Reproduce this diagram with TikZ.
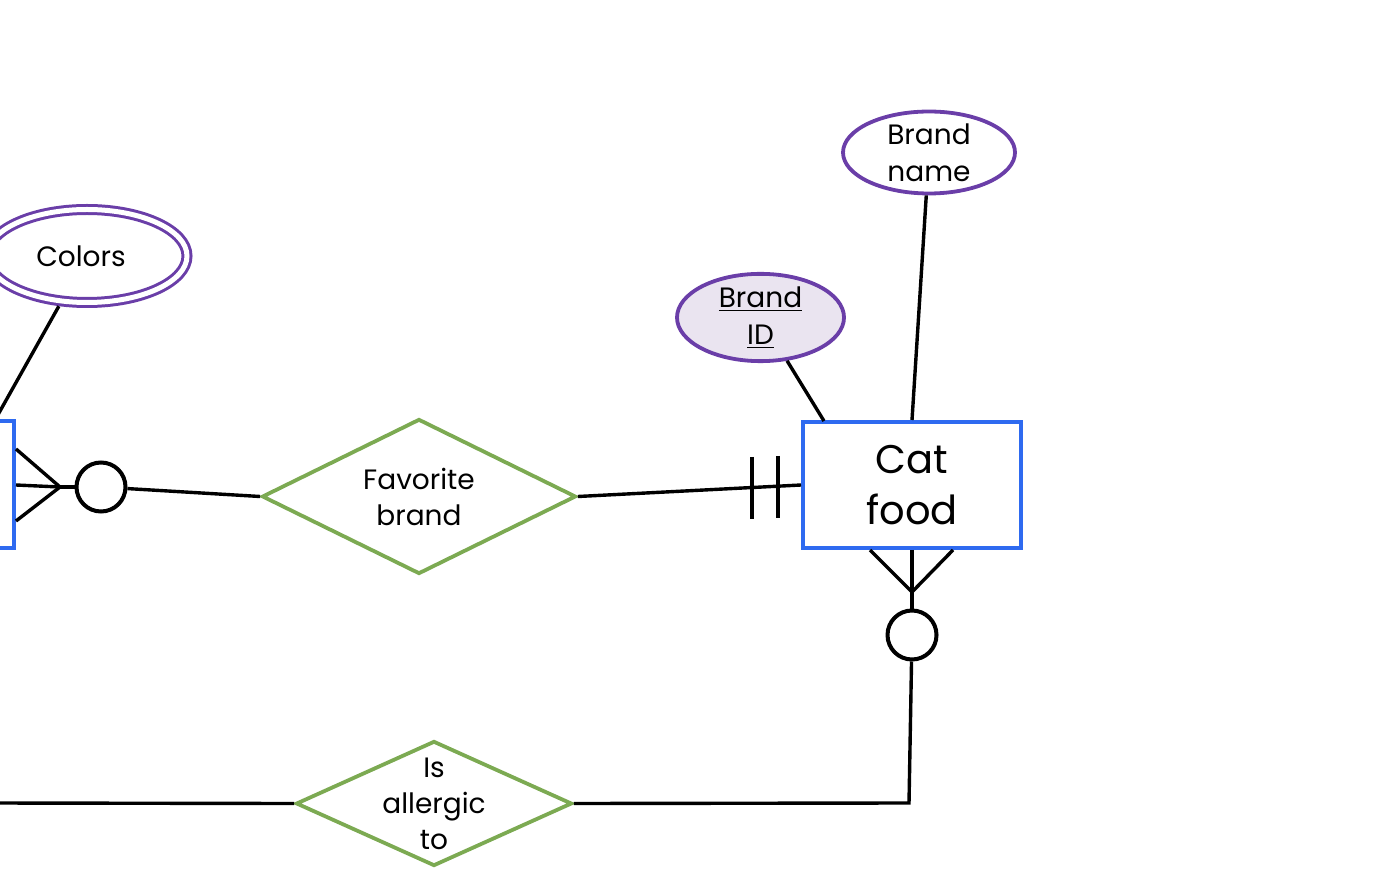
\documentclass[tikz,border=0pt]{standalone}
\usepackage{fontspec}
\setmainfont{Poppins}
\usetikzlibrary{shapes.geometric}
\definecolor{entblue}{RGB}{46,106,240}
\definecolor{attrpurple}{RGB}{106,62,168}
\definecolor{relgreen}{RGB}{124,170,82}
\definecolor{idfill}{RGB}{234,228,240}
\begin{document}
\begin{tikzpicture}[x=0.5pt,y=-0.5pt,
  entity/.style={draw=entblue,line width=2pt,rectangle,inner sep=0pt,align=center,font=\fontsize{20}{25.5}\selectfont},
  attr/.style={draw=attrpurple,line width=1.9pt,ellipse,inner sep=0pt,align=center,font=\fontsize{14}{18.5}\selectfont},
  rel/.style={draw=relgreen,line width=1.9pt,diamond,inner sep=0pt},
  reltext/.style={align=center,font=\fontsize{14}{18}\selectfont},
  conn/.style={black,line width=1.7pt},
  bar/.style={black,line width=2.2pt},
  opt/.style={circle,draw=black,line width=2pt,inner sep=0pt,minimum size=24.5pt,fill=white}]
\useasboundingbox (0,0) rectangle (1390,870);
\clip (0,0) rectangle (1390,870);

% entities
\node[entity,minimum width=107pt,minimum height=63.5pt] (pet) at (-93,485) {};
\node[entity,minimum width=109pt,minimum height=63pt] (catfood) at (912,485) {Cat\\food};

% attributes
\node[attr,double=white,double distance=2.5pt,line width=1.5pt,outer sep=2.8pt,minimum width=100pt,minimum height=46.5pt] (colors) at (87,256) {Colors\hspace*{6pt}};
\node[attr,fill=idfill,minimum width=83.5pt,minimum height=38.5pt] (brandid) at (760.5,317.5) {\underline{Brand}\\\underline{ID}};
\node[attr,minimum width=86pt,minimum height=39.5pt] (brandname) at (929,152.5) {Brand\\name};

% relationships
\node[rel,minimum width=157pt,minimum height=77.5pt,label={[reltext]center:Favorite\\brand}] (fav) at (419,496.5) {};
\node[rel,minimum width=138pt,minimum height=62.5pt,label={[reltext]center:Is\\allergic\\to}] (allergic) at (434,803.5) {};

% optional circles
\node[opt] (c1) at (101,487) {};
\node[opt] (c2) at (912,635) {};

% helper coordinates
\coordinate (pettop) at (-5,420);
\coordinate (lfoot) at (60,487);
\coordinate (cfoot) at (912,592);
\coordinate (corner) at (909,803);
\coordinate (leftend) at (-10,803);
\coordinate (bidend) at (824,421);
\coordinate (bar1) at (752,488);
\coordinate (bar2) at (778,487);

% attribute connectors
\draw[conn] (colors) -- (pettop);
\draw[conn] (brandid) -- (bidend);
\draw[conn] (brandname) -- (catfood.north);

% Favorite brand
\draw[conn] ([yshift=18pt]pet.east) -- (lfoot);
\draw[conn] (pet.east) -- (lfoot);
\draw[conn] ([yshift=-18pt]pet.east) -- (lfoot);
\draw[conn] (lfoot) -- (c1);
\draw[conn] (c1) -- (fav.west);
\draw[conn] (fav.east) -- (catfood.west);
\draw[bar] ([yshift=15.5pt]bar1) -- ([yshift=-15.5pt]bar1);
\draw[bar] ([yshift=15.5pt]bar2) -- ([yshift=-15.5pt]bar2);

% Is allergic to
\draw[conn] ([xshift=-21pt]catfood.south) -- (cfoot);
\draw[conn] (catfood.south) -- (cfoot);
\draw[conn] ([xshift=20.5pt]catfood.south) -- (cfoot);
\draw[conn] (cfoot) -- (c2);
\draw[conn] (c2) -- (corner) -- (allergic.east);
\draw[conn] (allergic.west) -- (leftend);
\end{tikzpicture}
\end{document}
